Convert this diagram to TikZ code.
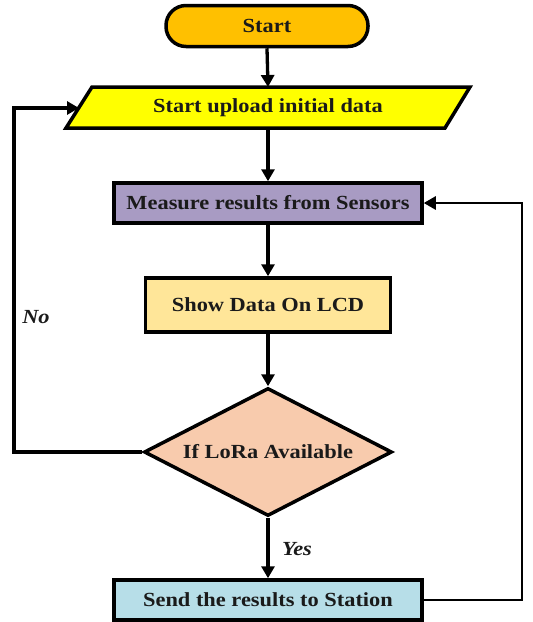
\documentclass[tikz,border=0pt]{standalone}
\usepackage{fontspec}
\setmainfont{Liberation Serif}
\usetikzlibrary{shapes.geometric,arrows.meta}
\definecolor{cstart}{HTML}{FFC000}
\definecolor{cpara}{HTML}{FFFF00}
\definecolor{cmeas}{HTML}{A89BC3}
\definecolor{clcd}{HTML}{FFE699}
\definecolor{cdia}{HTML}{F8CBAD}
\definecolor{csend}{HTML}{B7DEE8}
\definecolor{ctext}{HTML}{1A1A1A}
\newcommand{\widetxt}[1]{\scalebox{1.12}[1]{#1}}
\begin{document}
\begin{tikzpicture}[x=1pt,y=-1pt,
  lbl/.style={font=\fontsize{20}{23}\selectfont\bfseries, text=ctext},
  boxshape/.style={draw=black, line width=3.5pt, lbl, inner sep=0pt},
  conn/.style={line width=3.3pt, -{Triangle[length=12pt,width=13pt]}},
  side/.style={font=\fontsize{20}{23}\selectfont\bfseries\itshape, text=ctext}]
\useasboundingbox (0,0) rectangle (533,622);
% start
\node[boxshape, fill=cstart, rounded corners=20pt, minimum width=202pt, minimum height=41pt] (start) at (267,26) {\widetxt{Start}};
% parallelogram
\coordinate (pbl) at (66,128);
\coordinate (pbr) at (445,128);
\coordinate (ptr) at (470,87);
\coordinate (ptl) at (92,87);
\filldraw[fill=cpara, draw=black, line width=3.5pt, line join=miter] (pbl) -- (pbr) -- (ptr) -- (ptl) -- cycle;
\node[lbl] (para) at (268,108) {\widetxt{Start upload initial data}};
\coordinate (paratop) at (268,87);
\coordinate (parabot) at (268,128);
\coordinate (paraleft) at (79,108);
% boxes
\node[boxshape, fill=cmeas, minimum width=308pt, minimum height=40pt] (meas) at (268,203) {\widetxt{Measure results from Sensors}};
\node[boxshape, fill=clcd, minimum width=245pt, minimum height=54pt] (lcd) at (268,305) {\widetxt{Show Data On LCD}};
\node[boxshape, diamond, aspect=1.94, fill=cdia, minimum width=248pt, minimum height=128pt] (dia) at (268,452) {\widetxt{If LoRa Available}};
\node[boxshape, fill=csend, minimum width=308pt, minimum height=40pt] (send) at (268,600) {\widetxt{Send the results to Station}};
% loop corners
\coordinate (nl1) at (14,452);
\coordinate (nl2) at (14,108);
\coordinate (yr1) at (522,600);
\coordinate (yr2) at (522,203);
% connectors
\draw[conn] (start.south) -- (paratop);
\draw[conn] (parabot) -- (meas.north);
\draw[conn] (meas.south) -- (lcd.north);
\draw[conn] (lcd.south) -- (dia.north);
\draw[conn] (dia.south) -- (send.north);
\node[side] (yes) at (297,549) {\widetxt{Yes}};
\draw[conn] (dia.west) -- (nl1) -- (nl2) -- (paraleft);
\draw[conn, line width=2.6pt] (send.east) -- (yr1) -- (yr2) -- (meas.east);
\node[side] (no) at (36,317) {\widetxt{No}};
\end{tikzpicture}
\end{document}
